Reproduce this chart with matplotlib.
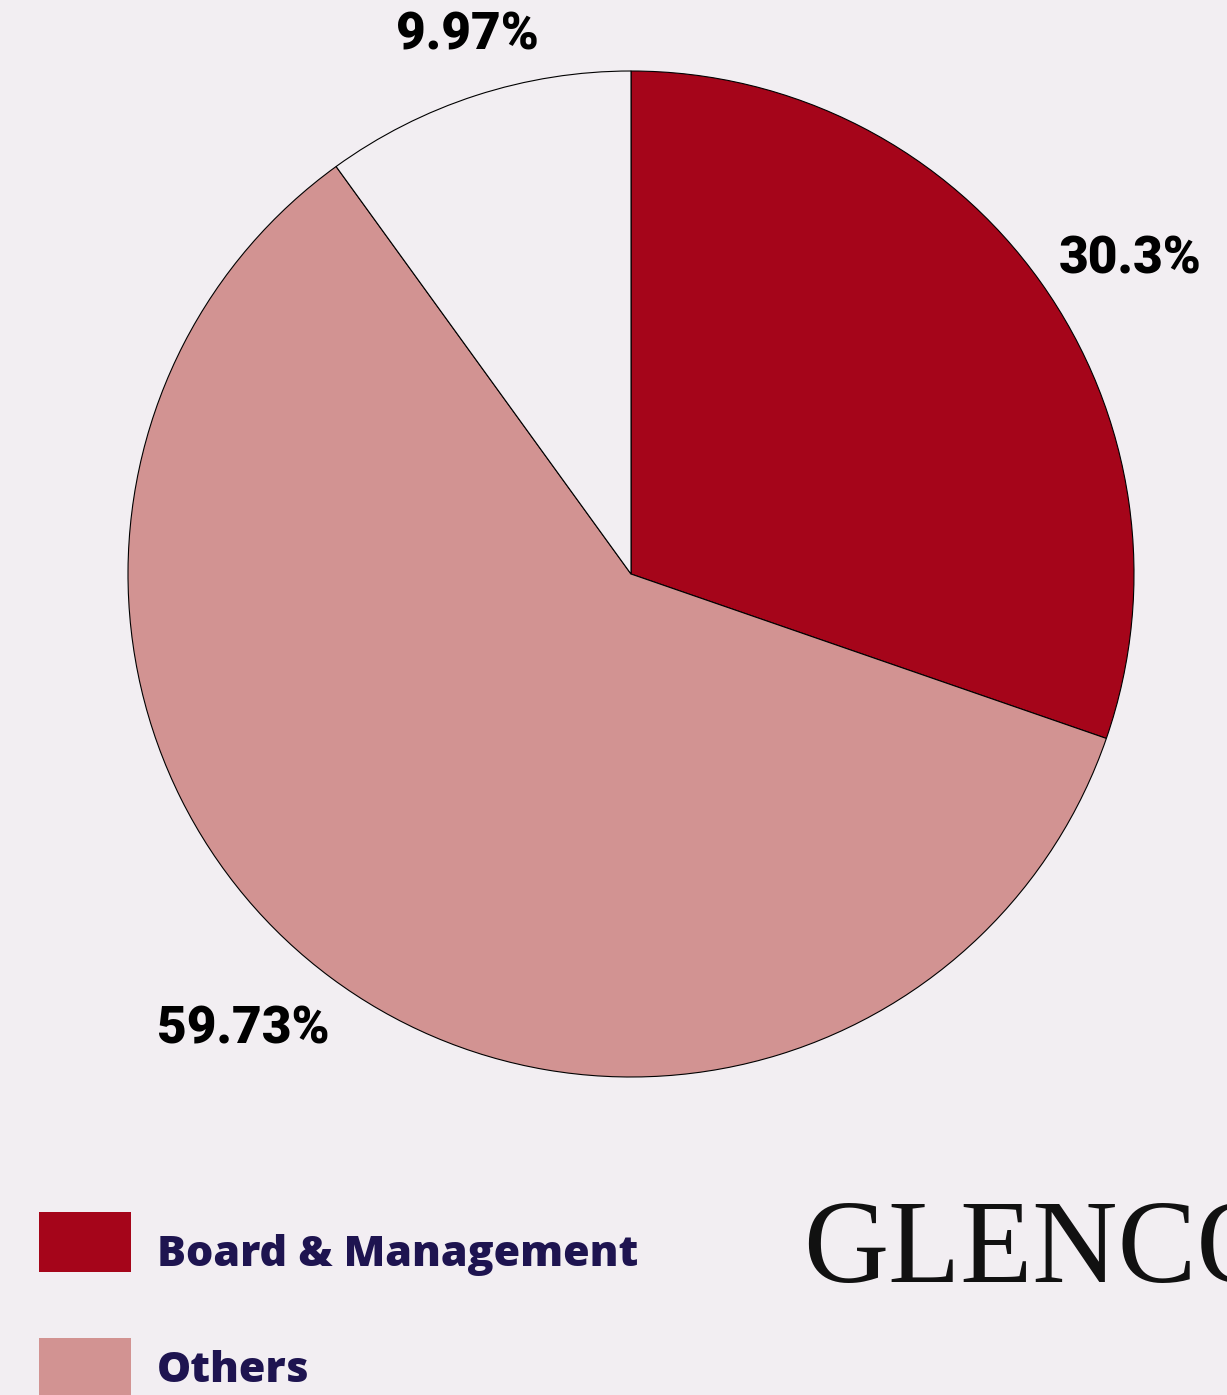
import matplotlib
matplotlib.use("Agg")
import matplotlib.pyplot as plt
import matplotlib.patches as mpatches
import numpy as np

categories = ["Board & Management", "Others", "Free float"]
values = [30.3, 59.73, 9.97]
labels = ["30.3%", "59.73%", "9.97%"]
colors = ["#A5051A", "#D29392", "#F2EEF2"]
legend_items = ["Board & Management", "Others"]

BG = "#F2EEF2"
W, H = 1227, 1395
fig = plt.figure(figsize=(W / 100, H / 100), dpi=100, facecolor=BG)

cx, cy, r = 631, 574, 503
ax = fig.add_axes([(cx - r) / W, (H - cy - r) / H, 2 * r / W, 2 * r / H])
ax.set_facecolor(BG)
wedges, _ = ax.pie(values, colors=colors, startangle=90, counterclock=False,
                   radius=1.0, wedgeprops=dict(edgecolor="black", linewidth=0.8))
ax.set_xlim(-1, 1)
ax.set_ylim(-1, 1)
ax.set_aspect("equal")
ax.axis("off")

# percentage labels
start = 90.0
label_r = [1.173, 1.19, 1.119]
label_shift = [-3.3, -3.8, -1.1]
for v, lab, lr, sh in zip(values, labels, label_r, label_shift):
    mid = np.deg2rad(start - v * 360 / 100 / 2 + sh)
    start -= v * 360 / 100
    ax.text(lr * np.cos(mid), lr * np.sin(mid), lab, ha="center", va="center",
            fontsize=37, fontweight="black", family=["Roboto", "DejaVu Sans"],
            color="black", clip_on=False)

# legend
lx, lw_, lh = 39, 92, 60
ys = [1212, 1338]
baselines = [1266, 1382]
for name, col, y, b in zip(legend_items, colors[:2], ys, baselines):
    fig.patches.append(mpatches.Rectangle((lx / W, 1 - (y + lh) / H), lw_ / W, lh / H,
                                          transform=fig.transFigure, facecolor=col,
                                          edgecolor="none"))
    fig.text(157 / W, 1 - b / H, name, ha="left", va="baseline", fontsize=31,
             fontweight="heavy", family=["Open Sans", "DejaVu Sans"], color="#1E1450")

# logo text
fig.text(803 / W, 1 - 1282 / H, "GLENCORE", ha="left", va="baseline", fontsize=85,
         family=["Liberation Serif", "DejaVu Serif"], color="#111111")

fig.savefig("out.png", dpi=100, facecolor=BG)
